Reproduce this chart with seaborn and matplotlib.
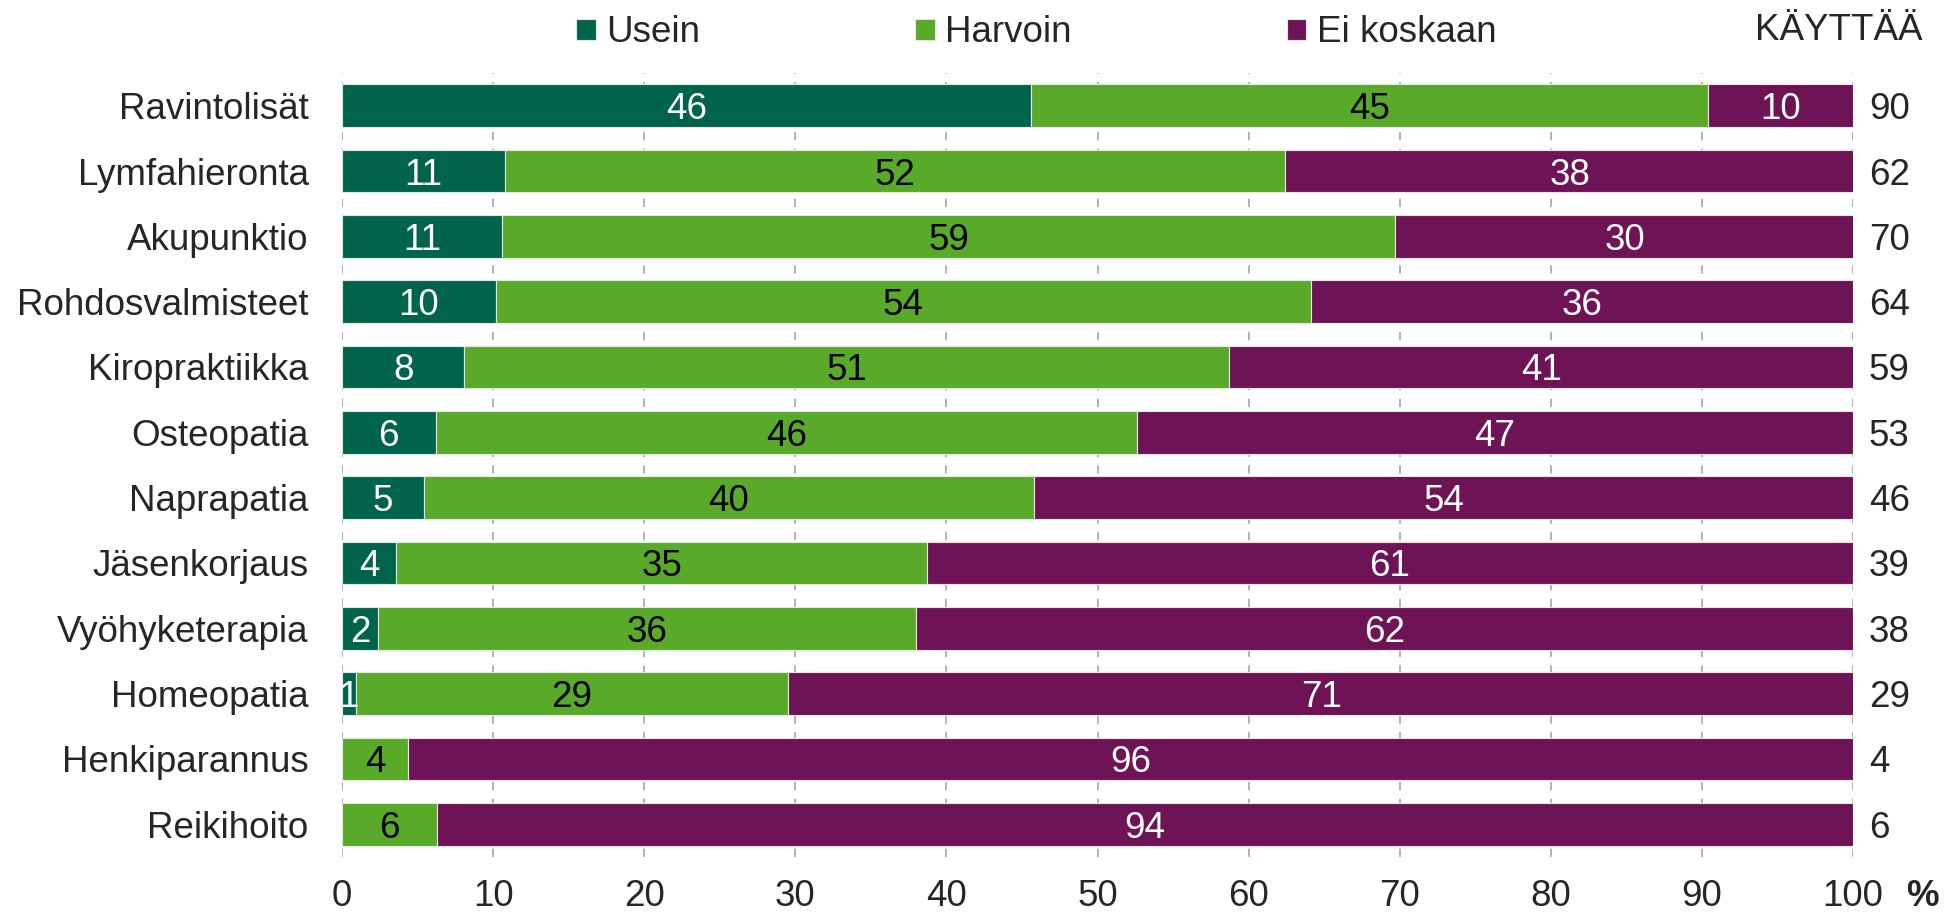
import pandas as pd
import seaborn as sns
import matplotlib.pyplot as plt

categories = ['Ravintolisät', 'Lymfahieronta', 'Akupunktio', 'Rohdosvalmisteet',
              'Kiropraktiikka', 'Osteopatia', 'Naprapatia', 'Jäsenkorjaus',
              'Vyöhyketerapia', 'Homeopatia', 'Henkiparannus', 'Reikihoito']
usein = [45.6, 10.8, 10.6, 10.2, 8.1, 6.2, 5.4, 3.6, 2.4, 0.9, 0.0, 0.0]
harvoin = [44.8, 51.6, 59.1, 53.9, 50.6, 46.4, 40.4, 35.1, 35.6, 28.6, 4.4, 6.3]
ei_koskaan = [9.6, 37.7, 30.4, 35.9, 41.4, 47.4, 54.2, 61.3, 62.0, 70.6, 95.6, 93.7]
kayttaa = [90, 62, 70, 64, 59, 53, 46, 39, 38, 29, 4, 6]

series = ['Usein', 'Harvoin', 'Ei koskaan']
colors = ['#00644C', '#58AA28', '#6E1456']
text_colors = ['white', 'black', 'white']

df = pd.DataFrame({'kategoria': categories, 'Usein': usein,
                   'Harvoin': harvoin, 'Ei koskaan': ei_koskaan})

sns.set_style('white')
plt.rcParams['font.family'] = ['Liberation Sans', 'DejaVu Sans']
fs = 26.5

W, H = 1949, 917
fig = plt.figure(figsize=(W / 100, H / 100), dpi=100)
ax = fig.add_axes([342 / W, 1 - 857 / H, (1853 - 342) / W, (857 - 73) / H])

left = [0.0] * len(categories)
for name, col, tcol in zip(series, colors, text_colors):
    vals = df[name].tolist()
    bars = ax.barh(df['kategoria'], vals, left=left, color=col, height=0.65,
                   edgecolor='#e6e6e6', linewidth=0.8, label=name, zorder=3)
    for b, v, l in zip(bars, vals, left):
        if v > 0.5:
            ax.text(l + v / 2, b.get_y() + b.get_height() / 2, str(round(v)),
                    ha='center', va='center_baseline', color=tcol, fontsize=fs, zorder=4)
    left = [l + v for l, v in zip(left, vals)]

ax.set_xlim(0, 100)
ax.set_ylim(len(categories) - 0.5, -0.5)
ax.set_xticks(range(0, 101, 10))
ax.tick_params(axis='x', labelsize=fs, length=0, pad=16)
ax.tick_params(axis='y', labelsize=fs, length=0, pad=24)
ax.xaxis.grid(True, linestyle=(0, (5, 5)), color='#a6a6a6', linewidth=1.2, zorder=0)
ax.yaxis.grid(False)
for s in ax.spines.values():
    s.set_visible(False)

# KÄYTTÄÄ column on the right
for i, k in enumerate(kayttaa):
    ax.text(101.05, i, str(k), ha='left', va='center_baseline', fontsize=fs)
fig.text(1923 / W, 1 - 30 / H, 'KÄYTTÄÄ', ha='right', va='center', fontsize=fs)
fig.text(1906 / W, 3 / H, '%', ha='left', va='bottom', fontsize=fs, fontweight='bold')

handles, labels = ax.get_legend_handles_labels()
fig.legend(handles, labels, loc='center left', bbox_to_anchor=(576 / W, 1 - 33 / H),
           ncol=3, frameon=False, fontsize=fs, handlelength=0.53, handleheight=0.53,
           columnspacing=5.85, handletextpad=0.28, borderpad=0, borderaxespad=0)

plt.savefig('out.png', dpi=100)
